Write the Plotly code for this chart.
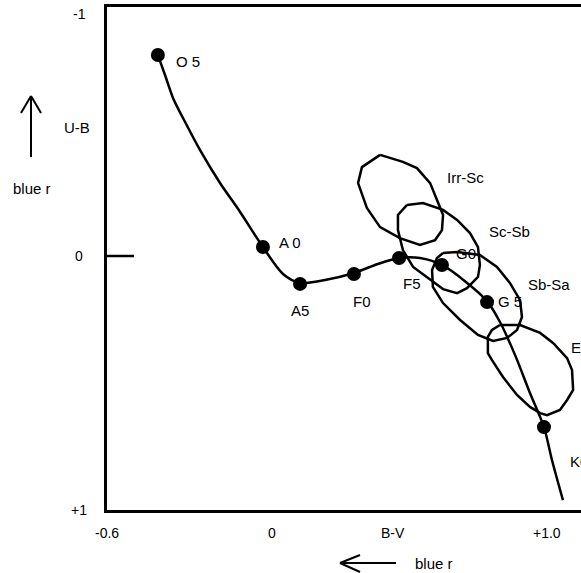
import plotly.graph_objects as go

# ---------------- data (B-V, U-B) ----------------
track_bv = [-0.415, -0.389, -0.360, -0.316, -0.262, -0.189, -0.116, -0.033, 0.040, 0.102,
            0.193, 0.298, 0.385, 0.462, 0.538, 0.618, 0.705, 0.782, 0.829, 0.884,
            0.938, 0.989, 1.018, 1.058]
track_ub = [-0.807, -0.727, -0.635, -0.538, -0.426, -0.293, -0.177, -0.036, 0.072, 0.108,
            0.096, 0.068, 0.032, 0.008, 0.008, 0.036, 0.104, 0.181, 0.265, 0.398,
            0.550, 0.687, 0.819, 0.980]

star_types = ["O 5", "A 0", "A5", "F0", "F5", "G0", "G 5", "K0"]
star_bv = [-0.415, -0.033, 0.102, 0.298, 0.462, 0.618, 0.782, 0.989]
star_ub = [-0.807, -0.036, 0.112, 0.072, 0.008, 0.036, 0.185, 0.687]
label_bv = [-0.305, 0.065, 0.102, 0.327, 0.509, 0.705, 0.865, 1.076]
label_ub = [-0.783, -0.056, 0.217, 0.181, 0.112, -0.012, 0.181, 0.827]

irr_sc_bv = [0.393, 0.476, 0.527, 0.575, 0.600, 0.622, 0.618, 0.593, 0.538, 0.465, 0.393, 0.345, 0.313, 0.327, 0.393]
irr_sc_ub = [-0.406, -0.378, -0.353, -0.293, -0.225, -0.165, -0.104, -0.064, -0.044, -0.072, -0.116, -0.193, -0.293, -0.357, -0.406]

sc_sb_bv = [0.491, 0.549, 0.622, 0.673, 0.720, 0.749, 0.756, 0.749, 0.709, 0.673, 0.622, 0.575, 0.513, 0.476, 0.458, 0.458, 0.491]
sc_sb_ub = [-0.205, -0.213, -0.185, -0.145, -0.092, -0.036, 0.036, 0.084, 0.129, 0.149, 0.133, 0.096, 0.044, -0.024, -0.104, -0.165, -0.205]

sb_sa_bv = [0.622, 0.673, 0.756, 0.818, 0.865, 0.902, 0.909, 0.891, 0.855, 0.804, 0.749, 0.684, 0.622, 0.585, 0.582, 0.600, 0.622]
sb_sa_ub = [-0.012, -0.016, -0.004, 0.044, 0.108, 0.177, 0.245, 0.297, 0.329, 0.341, 0.317, 0.257, 0.189, 0.124, 0.056, 0.008, -0.012]

e_bv = [0.829, 0.902, 0.975, 1.022, 1.073, 1.091, 1.095, 1.073, 1.047, 1.000, 0.975, 0.938, 0.891, 0.840, 0.800, 0.785, 0.785, 0.800, 0.829]
e_ub = [0.277, 0.277, 0.309, 0.349, 0.410, 0.458, 0.538, 0.578, 0.618, 0.639, 0.631, 0.606, 0.558, 0.486, 0.418, 0.390, 0.325, 0.297, 0.277]

galaxy_names = ["Irr-Sc", "Sc-Sb", "Sb-Sa", "E"]
galaxy_label_bv = [0.705, 0.865, 1.007, 1.080]
galaxy_label_ub = [-0.317, -0.100, 0.116, 0.369]

x_tick_vals = [-0.6, 0.0, 0.44, 1.0]
x_tick_text = ["-0.6", "0", "B-V", "+1.0"]
y_tick_vals = [-1.0, 0.0, 1.0]
y_tick_text = ["-1", "0", "+1"]

FONT = "Liberation Sans, Arial, sans-serif"
LBL = 15

fig = go.Figure()

fig.add_trace(go.Scatter(x=track_bv, y=track_ub, mode="lines",
                         line=dict(color="black", width=2.5, shape="spline", smoothing=0.8),
                         hoverinfo="skip", showlegend=False))

for bx, by in [(irr_sc_bv, irr_sc_ub), (sc_sb_bv, sc_sb_ub), (sb_sa_bv, sb_sa_ub), (e_bv, e_ub)]:
    fig.add_trace(go.Scatter(x=bx, y=by, mode="lines",
                             line=dict(color="black", width=2.5),
                             hoverinfo="skip", showlegend=False))

fig.add_trace(go.Scatter(x=star_bv, y=star_ub, mode="markers",
                         marker=dict(color="black", size=14),
                         text=star_types, showlegend=False))

ann = []
for t, lx, ly in zip(star_types, label_bv, label_ub):
    ann.append(dict(x=lx, y=ly, xref="x", yref="y", text=t, showarrow=False,
                    xanchor="left" if t == "K0" else "center",
                    font=dict(size=LBL, color="black", family=FONT)))
for t, lx, ly in zip(galaxy_names, galaxy_label_bv, galaxy_label_ub):
    ann.append(dict(x=lx, y=ly, xref="x", yref="y", text=t, showarrow=False,
                    xanchor="left" if t == "E" else "center",
                    font=dict(size=LBL, color="black", family=FONT)))
for v, t in zip(x_tick_vals, x_tick_text):
    ann.append(dict(x=v, y=0, xref="x", yref="paper", text=t, showarrow=False,
                    xanchor="center", yanchor="middle", yshift=-23,
                    font=dict(size=14, color="black", family=FONT)))
y_shifts = [-7, 0, -5]
for v, t, s in zip(y_tick_vals, y_tick_text, y_shifts):
    ann.append(dict(x=0, y=v, xref="paper", yref="y", text=t, showarrow=False,
                    xanchor="center", yanchor="middle", xshift=-28, yshift=s,
                    font=dict(size=14, color="black", family=FONT)))

# axis labels & "bluer" notes (paper coordinates: plot area 474 x 503 px)
def px(xp):
    return (xp - 107) / 474.0

def py(yp):
    return (510 - yp) / 503.0

for t, xp, yp in [("U-B", 77, 127), ("blue r", 32, 188), ("blue r", 434, 563)]:
    ann.append(dict(x=px(xp), y=py(yp), xref="paper", yref="paper", text=t, showarrow=False,
                    xanchor="center", yanchor="middle",
                    font=dict(size=LBL, color="black", family=FONT)))

line = dict(color="black", width=2)
shapes = [
    # zero tick
    dict(type="line", xref="paper", yref="y", x0=0, x1=px(134), y0=0, y1=0, line=dict(color="black", width=2.5)),
    # up arrow
    dict(type="line", xref="paper", yref="paper", x0=px(31), x1=px(31), y0=py(157), y1=py(96), line=line),
    dict(type="line", xref="paper", yref="paper", x0=px(31), x1=px(21), y0=py(96), y1=py(113), line=line),
    dict(type="line", xref="paper", yref="paper", x0=px(31), x1=px(41), y0=py(96), y1=py(113), line=line),
    # left arrow
    dict(type="line", xref="paper", yref="paper", x0=px(340), x1=px(396), y0=py(563), y1=py(563), line=line),
    dict(type="line", xref="paper", yref="paper", x0=px(340), x1=px(360), y0=py(563), y1=py(555), line=line),
    dict(type="line", xref="paper", yref="paper", x0=px(340), x1=px(360), y0=py(563), y1=py(572), line=line),
]

fig.update_layout(
    width=581, height=573,
    margin=dict(l=107, r=0, t=7, b=63),
    paper_bgcolor="white", plot_bgcolor="white",
    annotations=ann, shapes=shapes,
    xaxis=dict(range=[-0.6, 1.1236], showgrid=False, zeroline=False, showticklabels=False,
               ticks="", showline=True, mirror=True, linecolor="black", linewidth=3),
    yaxis=dict(range=[1.020, -1.0], showgrid=False, zeroline=False, showticklabels=False,
               ticks="", showline=True, mirror=False, linecolor="black", linewidth=3),
)

fig.write_html("out.html", config={"displayModeBar": False},
               post_script="document.body.style.margin='0';document.body.style.overflow='hidden';")
